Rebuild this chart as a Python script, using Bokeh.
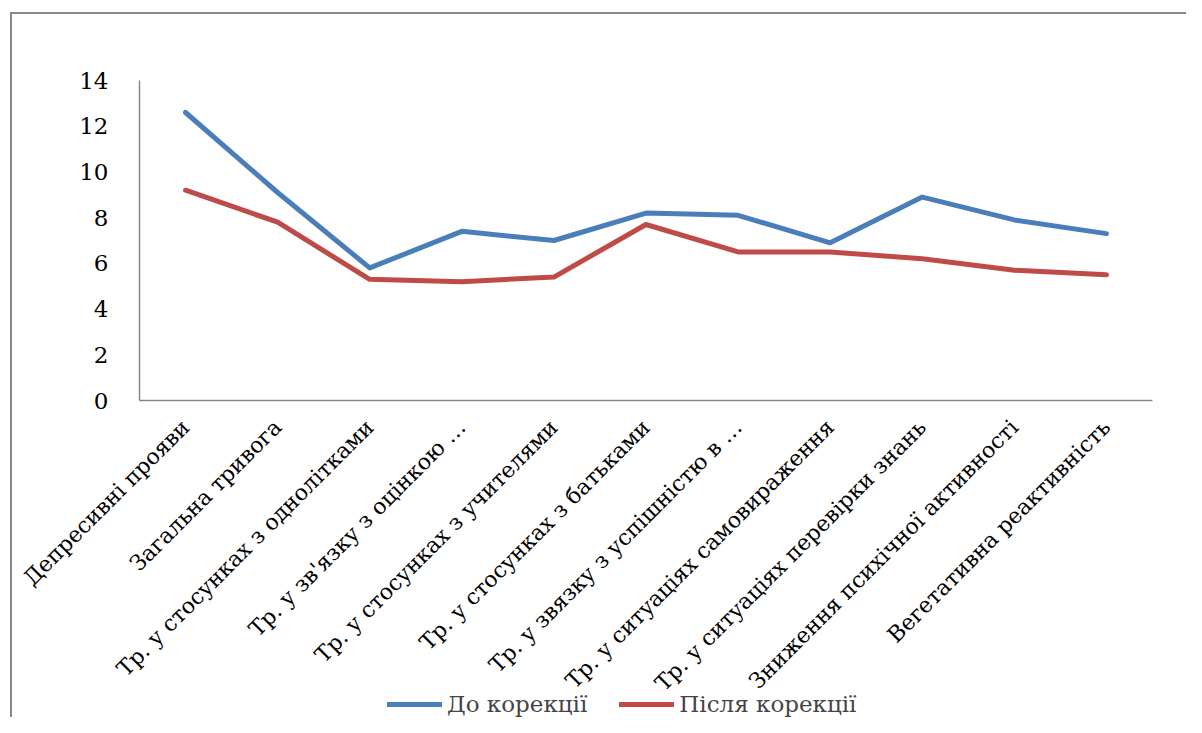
from bokeh.plotting import figure
from bokeh.models import Range1d, FixedTicker, Legend, LegendItem
from bokeh.embed import file_html
from bokeh.resources import INLINE
import math

categories = [
    "Депресивні прояви",
    "Загальна тривога",
    "Тр. у стосунках з однолітками",
    "Тр. у зв'язку з оцінкою …",
    "Тр. у стосунках з учителями",
    "Тр. у стосунках з батьками",
    "Тр. у звязку з успішністю в …",
    "Тр. у ситуаціях самовираження",
    "Тр. у ситуаціях перевірки знань",
    "Зниження психічної активності",
    "Вегетативна реактивність",
]
before = [12.6, 9.1, 5.8, 7.4, 7.0, 8.2, 8.1, 6.9, 8.9, 7.9, 7.3]
after = [9.2, 7.8, 5.3, 5.2, 5.4, 7.7, 6.5, 6.5, 6.2, 5.7, 5.5]
y_ticks = [0, 2, 4, 6, 8, 10, 12, 14]
series_names = ["До корекції", "Після корекції"]

FONT = "DejaVu Serif"
W, H = 1186, 717
# plot-area geometry (pixels on the canvas)
AX_TOP, AX_BOTTOM, AX_LEFT, AX_RIGHT = 80, 400, 139, 1152
FL, FT = 12, 14  # frame extends beyond the axes so labels are not clipped
n = len(categories)
ppx = (AX_RIGHT - AX_LEFT) / n
ppy = (AX_BOTTOM - AX_TOP) / 14.0
x_start = -(AX_LEFT - FL) / ppx
x_end = n + (W - AX_RIGHT) / ppx
y_end = 14 + (AX_TOP - FT) / ppy
y_start = -(H - AX_BOTTOM) / ppy

xpos = [i + 0.5 for i in range(n)]

p = figure(width=W, height=H, output_backend="svg", toolbar_location=None,
           x_range=Range1d(x_start, x_end), y_range=Range1d(y_start, y_end),
           min_border_left=FL, min_border_top=FT, min_border_right=0,
           min_border_bottom=0)
p.outline_line_color = None
p.border_fill_color = None
p.background_fill_color = None
p.xgrid.grid_line_color = None
p.ygrid.grid_line_color = None
p.styles = {
    "background-color": "white",
    "background-image": "linear-gradient(#878787, #878787), linear-gradient(#878787, #878787)",
    "background-size": "2px 100%, 100% 2px",
    "background-position": "10px 12px, 10px 12px",
    "background-repeat": "no-repeat",
}

r1 = p.line(xpos, before, line_color="#4A7EBB", line_width=5, line_cap="round", line_join="round")
r2 = p.line(xpos, after, line_color="#BE4B48", line_width=5, line_cap="round", line_join="round")

for ax in (p.xaxis[0], p.yaxis[0]):
    ax.axis_line_color = "#868686"
    ax.axis_line_width = 1.5
    ax.major_tick_line_color = None
    ax.minor_tick_line_color = None
    ax.major_label_text_font = FONT
    ax.major_label_text_color = "black"
    ax.fixed_location = 0

p.yaxis.ticker = FixedTicker(ticks=y_ticks)
p.yaxis.bounds = (0, 14)
p.yaxis.major_label_text_font_size = "23px"
p.yaxis.major_label_standoff = 25

p.xaxis.ticker = FixedTicker(ticks=xpos)
p.xaxis.bounds = (0, n)
p.xaxis.major_label_overrides = {x: c for x, c in zip(xpos, categories)}
p.xaxis.major_label_text_font_size = "22px"
p.xaxis.major_label_orientation = math.pi / 4
p.xaxis.major_label_standoff = 17

legend = Legend(items=[LegendItem(label=series_names[0], renderers=[r1]),
                       LegendItem(label=series_names[1], renderers=[r2])],
                orientation="horizontal", location=(387 - FL, 0),
                glyph_width=55, label_standoff=5, spacing=32,
                label_text_font=FONT, label_text_font_size="23px",
                border_line_color=None, background_fill_alpha=0,
                padding=0, margin=0)
p.add_layout(legend, "center")

open("out.html", "w").write(file_html(p, INLINE))
